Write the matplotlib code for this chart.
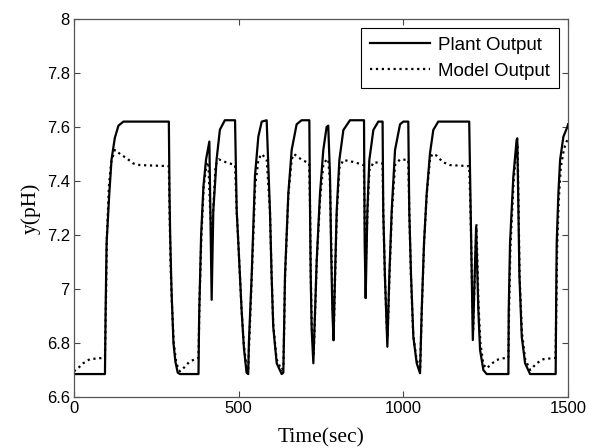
import numpy as np
import matplotlib
matplotlib.use('Agg')
import matplotlib.pyplot as plt
from matplotlib.ticker import FormatStrFormatter

# plant output (time in sec, pH)
plant_t = [0, 94, 96, 99, 107, 114, 124, 135, 150, 288,
           290, 292, 296, 302, 308, 315, 322, 378,
           380, 386, 393, 401, 411, 418, 423, 433, 443, 458, 489,
           494, 499, 509, 516, 524, 529,
           531, 539.5, 549.6, 559.7, 570, 585,
           595, 600, 605, 615.5, 630.6,
           635.6, 640.7, 650.8, 661, 676, 691, 714.6,
           716.7, 718.7, 721.7, 726.8,
           737, 747, 757, 767, 772,
           777.4, 780.4, 784.5, 788,
           792.6, 797.7, 805.8, 818, 838, 880.6,
           882.6, 885.6, 890.8, 896.8, 909, 924, 937,
           939, 944, 949.5, 951.5,
           957.5, 964.7, 974.8, 990, 1000, 1015,
           1018, 1023.4, 1030.4, 1040.6, 1050.7,
           1055.8, 1062.8, 1071, 1081, 1091, 1106, 1200,
           1204.5, 1207.6, 1211,
           1221, 1227.8, 1233, 1243, 1253, 1319,
           1320, 1324, 1334, 1344, 1346,
           1349.5, 1352.5, 1359.6, 1369.7, 1384.8, 1462.6,
           1464, 1465.7, 1470.8, 1476, 1486, 1498, 1500]
plant_y = [6.685, 6.685, 6.92, 7.17, 7.35, 7.48, 7.56, 7.605, 7.62, 7.62,
           7.35, 7.2, 7.0, 6.8, 6.73, 6.69, 6.685, 6.685,
           6.9, 7.2, 7.38, 7.48, 7.546, 6.96, 7.29, 7.48, 7.59, 7.625, 7.625,
           7.29, 7.17, 6.92, 6.78, 6.69, 6.685,
           6.8, 7.05, 7.42, 7.564, 7.62, 7.625,
           7.29, 7.05, 6.86, 6.725, 6.685,
           6.69, 7.05, 7.354, 7.515, 7.61, 7.625, 7.625,
           7.29, 7.05, 6.85, 6.725,
           7.107, 7.354, 7.515, 7.60, 7.605,
           7.416, 7.17, 6.92, 6.81,
           7.05, 7.29, 7.478, 7.589, 7.625, 7.625,
           7.17, 6.966, 7.29, 7.478, 7.589, 7.62, 7.62,
           7.29, 7.05, 6.86, 6.786,
           7.05, 7.29, 7.515, 7.61, 7.62, 7.62,
           7.29, 7.05, 6.823, 6.725, 6.688,
           6.92, 7.17, 7.354, 7.503, 7.589, 7.62, 7.62,
           7.29, 7.05, 6.811,
           7.23, 6.92, 6.774, 6.70, 6.685, 6.685,
           6.92, 7.17, 7.416, 7.552, 7.558,
           7.29, 7.05, 6.823, 6.725, 6.685, 6.685,
           6.95, 7.17, 7.354, 7.478, 7.564, 7.60, 7.61]

# model output
model_t = [0, 15, 28, 48, 89, 94,
           97, 100, 106, 113, 124, 140, 160, 180, 200, 288,
           290, 293, 297, 303, 310, 318, 322, 335, 350, 362, 378,
           381, 387, 394, 402, 408, 413, 418, 423, 430, 440, 460, 489,
           494, 499, 509, 516, 524, 529,
           532, 540, 550, 560, 570, 585,
           595, 600, 605, 615, 630, 636,
           641, 651, 661, 668, 690, 714,
           717, 719, 722, 728,
           737, 747, 757, 767, 772,
           777, 781, 785, 789,
           793, 798, 806, 818, 850, 880,
           883, 886, 891, 897, 910, 937,
           939, 944, 949, 952,
           958, 965, 975, 990, 1015,
           1018, 1023, 1030, 1040, 1051,
           1056, 1063, 1071, 1081, 1088, 1100, 1120, 1142, 1200,
           1204, 1208, 1212,
           1222, 1228, 1234, 1243, 1253, 1270, 1283, 1300, 1319,
           1321, 1325, 1335, 1344, 1347,
           1350, 1353, 1360, 1370, 1385, 1390, 1405, 1425, 1462,
           1465, 1467, 1472, 1478, 1488, 1500]
model_y = [6.695, 6.71, 6.725, 6.74, 6.745, 6.75,
           6.95, 7.2, 7.38, 7.47, 7.515, 7.5, 7.484, 7.465, 7.459, 7.455,
           7.3, 7.1, 6.95, 6.8, 6.73, 6.70, 6.695, 6.71, 6.73, 6.737, 6.745,
           6.95, 7.2, 7.38, 7.46, 7.47, 7.3, 7.2, 7.3, 7.46, 7.48, 7.47, 7.459,
           7.29, 7.17, 6.92, 6.79, 6.71, 6.70,
           6.8, 7.05, 7.38, 7.48, 7.5, 7.48,
           7.29, 7.05, 6.87, 6.74, 6.70, 6.71,
           7.05, 7.35, 7.48, 7.5, 7.48, 7.465,
           7.29, 7.05, 6.86, 6.76,
           7.1, 7.33, 7.46, 7.48, 7.48,
           7.4, 7.17, 6.95, 6.85,
           7.05, 7.28, 7.45, 7.478, 7.47, 7.459,
           7.25, 7.08, 7.28, 7.44, 7.47, 7.465,
           7.29, 7.05, 6.88, 6.82,
           7.05, 7.28, 7.46, 7.48, 7.478,
           7.29, 7.05, 6.83, 6.74, 6.70,
           6.92, 7.17, 7.35, 7.48, 7.50, 7.495, 7.47, 7.459, 7.455,
           7.29, 7.05, 6.85,
           7.24, 6.95, 6.8, 6.72, 6.706, 6.725, 6.737, 6.743, 6.745,
           6.92, 7.15, 7.40, 7.53, 7.54,
           7.29, 7.05, 6.84, 6.74, 6.70, 6.706, 6.725, 6.74, 6.745,
           6.96, 7.15, 7.33, 7.45, 7.52, 7.56]

xticks = [0, 500, 1000, 1500]
yticks = [6.6, 6.8, 7.0, 7.2, 7.4, 7.6, 7.8, 8.0]

fig = plt.figure(figsize=(5.9, 4.48), dpi=100)
ax = fig.add_axes([74/590, 51/448, 494/590, 378/448])

ax.plot(plant_t, plant_y, color='black', lw=1.6, label='Plant Output')
ax.plot(model_t, model_y, color='black', lw=1.6, ls=':', label='Model Output')

ax.set_xlim(0, 1500)
ax.set_ylim(6.6, 8.0)
ax.set_xticks(xticks)
ax.set_yticks(yticks)
ax.yaxis.set_major_formatter(FormatStrFormatter('%g'))
ax.tick_params(direction='in', top=True, right=True, length=4, width=0.8,
               color='#444444', labelsize=12, pad=3)
for lab in ax.get_xticklabels() + ax.get_yticklabels():
    lab.set_family('Liberation Sans')
for s in ax.spines.values():
    s.set_color('#555555')
    s.set_linewidth(0.9)

ax.set_xlabel('Time(sec)', family='Liberation Serif', fontsize=15.5, labelpad=9)
ax.set_ylabel('y(pH)', family='Liberation Serif', fontsize=15.5, labelpad=4)

leg = ax.legend(loc='upper right', prop={'family': 'Liberation Sans', 'size': 13.5},
                fancybox=False, frameon=True, edgecolor='black', framealpha=1,
                handlelength=3.2, handletextpad=0.45, borderpad=0.45,
                labelspacing=0.45, borderaxespad=0.5)
leg.get_frame().set_linewidth(0.8)

fig.savefig('out.png', dpi=100)
